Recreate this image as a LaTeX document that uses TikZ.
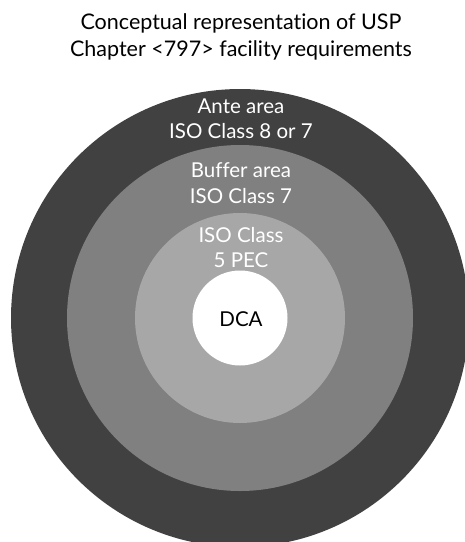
\documentclass[tikz,border=0pt]{standalone}
\usepackage{fontspec}
\setmainfont{Lato}[Ligatures=NoCommon]
\definecolor{antegray}{HTML}{414141}
\definecolor{buffergray}{HTML}{808080}
\definecolor{pecgray}{HTML}{A7A7A7}
\begin{document}
\begin{tikzpicture}[x=1pt,y=-1pt,
        zone/.style={circle,inner sep=0pt,draw=none},
        lbl/.style={anchor=base,inner sep=0pt,text=white,font=\fontsize{20.5}{24}\selectfont},
        ttl/.style={anchor=base,inner sep=0pt,font=\fontsize{21.5}{26}\selectfont}]
        \useasboundingbox (0,0) rectangle (465,542);
        \clip (0,0) rectangle (465,542);
        % title
        \node[ttl] (title1) at (241,29) {Conceptual representation of USP};
        \node[ttl] (title2) at (241,56) {Chapter <797> facility requirements};
        % nested zones
        \node[zone,fill=antegray,minimum size=458pt] (ante) at (240,318) {};
        \node[zone,fill=buffergray,minimum size=346pt] (buffer) at (ante.center) {};
        \node[zone,fill=pecgray,minimum size=210pt] (pec) at (ante.center) {};
        \node[zone,fill=white,minimum size=95pt] (dca) at (ante.center) {};
        % labels
        \node[lbl] (ante1) at (241,113) {Ante area};
        \node[lbl] (ante2) at (241,138) {ISO Class 8 or 7};
        \node[lbl] (buffer1) at (241,177) {Buffer area};
        \node[lbl] (buffer2) at (241,203) {ISO Class 7};
        \node[lbl] (pec1) at (241,242) {ISO Class};
        \node[lbl] (pec2) at (241,267) {5 PEC};
        \node[lbl,text=black] (dcaname) at (241,326) {DCA};
\end{tikzpicture}
\end{document}
